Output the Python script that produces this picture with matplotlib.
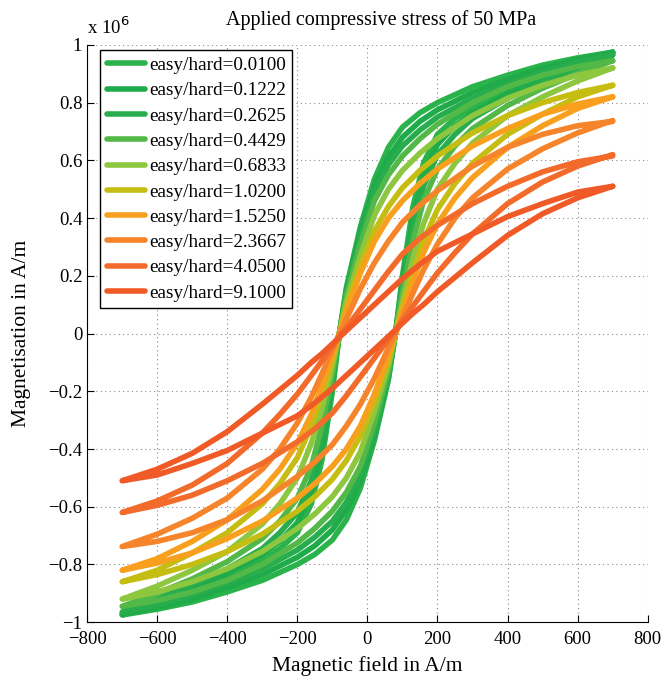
import matplotlib
matplotlib.use('Agg')
import matplotlib.pyplot as plt
from matplotlib.ticker import FuncFormatter
import numpy as np

plt.rcParams['font.family'] = ['Liberation Serif', 'DejaVu Serif']

# field values of the descending (upper) branch, A/m
H = [700, 600, 500, 400, 300, 200, 150, 100, 60, 20, -20, -60, -80,
     -100, -130, -160, -200, -250, -300, -400, -500, -600, -700]

labels = ['easy/hard=0.0100', 'easy/hard=0.1222', 'easy/hard=0.2625',
          'easy/hard=0.4429', 'easy/hard=0.6833', 'easy/hard=1.0200',
          'easy/hard=1.5250', 'easy/hard=2.3667', 'easy/hard=4.0500',
          'easy/hard=9.1000']

colors = ['#2bb34b', '#1fab4a', '#27ad4d', '#52b848', '#8dc63f',
          '#c6bd12', '#f8a01d', '#f6842a', '#f26b2a', '#f05a27']

# magnetisation of the descending branch, x 1e6 A/m
m_0100 = [.975, .955, .93, .895, .855, .80, .765, .715, .645, .535, .37, .16, 0.0,
          -.20, -.44, -.59, -.69, -.745, -.785, -.845, -.895, -.94, -.975]
m_1222 = [.972, .95, .92, .88, .835, .775, .735, .68, .61, .51, .355, .15, 0.0,
          -.18, -.40, -.55, -.655, -.72, -.765, -.83, -.885, -.93, -.972]
m_2625 = [.965, .94, .905, .865, .815, .75, .705, .65, .585, .49, .34, .145, 0.0,
          -.16, -.36, -.51, -.62, -.69, -.745, -.815, -.87, -.92, -.965]
m_4429 = [.945, .925, .895, .855, .80, .725, .675, .615, .55, .46, .31, .13, 0.0,
          -.14, -.32, -.46, -.57, -.65, -.71, -.79, -.85, -.90, -.945]
m_6833 = [.92, .895, .86, .815, .755, .675, .625, .565, .50, .41, .27, .11, 0.0,
          -.11, -.26, -.38, -.50, -.59, -.66, -.755, -.82, -.875, -.92]
m_10200 = [.86, .835, .80, .755, .695, .615, .565, .505, .44, .355, .235, .09, 0.0,
           -.09, -.21, -.32, -.43, -.52, -.59, -.69, -.76, -.82, -.86]
m_15250 = [.82, .795, .76, .71, .65, .57, .52, .46, .40, .32, .21, .075, 0.0,
           -.075, -.18, -.28, -.38, -.47, -.54, -.645, -.72, -.78, -.82]
m_23667 = [.735, .72, .69, .645, .58, .495, .445, .385, .32, .245, .155, .05, 0.0,
           -.055, -.14, -.22, -.31, -.40, -.47, -.57, -.64, -.695, -.738]
m_40500 = [.615, .595, .56, .51, .45, .375, .33, .275, .215, .15, .085, .02, -.01,
           -.045, -.095, -.145, -.21, -.28, -.345, -.45, -.525, -.58, -.62]
m_91000 = [.51, .49, .45, .405, .345, .285, .24, .19, .145, .10, .055, .01, -.013,
           -.036, -.07, -.10, -.145, -.195, -.245, -.34, -.415, -.47, -.51]

branches = [m_0100, m_1222, m_2625, m_4429, m_6833,
            m_10200, m_15250, m_23667, m_40500, m_91000]

fig = plt.figure(figsize=(6.65, 6.8), dpi=100)
ax = fig.add_axes([0.131, 0.085, 0.843, 0.849])

h = np.array(H, dtype=float)
for m, c, lab in zip(branches, colors, labels):
    m = np.array(m)
    # ascending branch is the point mirror of the descending one
    hx = np.concatenate([h, -h[1:]])
    my = np.concatenate([m, -m[1:]])
    ax.plot(hx, my, color=c, lw=4.0, label=lab, solid_capstyle='round',
            solid_joinstyle='round')


def tick_fmt(v, pos):
    s = '%g' % (round(v, 2) + 0.0)
    if s == '-0':
        s = '0'
    return s.replace('-', '\u2212')


ax.set_xlim(-800, 800)
ax.set_ylim(-1, 1)
ax.set_xticks(np.arange(-800, 801, 200))
ax.set_yticks(np.arange(-1, 1.01, 0.2))
ax.xaxis.set_major_formatter(FuncFormatter(tick_fmt))
ax.yaxis.set_major_formatter(FuncFormatter(tick_fmt))
ax.tick_params(direction='in', length=5, labelsize=13.5, width=0.8)
ax.tick_params(axis='x', pad=6)
ax.grid(True, linestyle=(0, (1, 3)), color='#888888', lw=0.8)
ax.spines['top'].set_visible(False)
ax.spines['right'].set_visible(False)

ax.set_title('Applied compressive stress of 50 MPa', fontsize=14.5, pad=14,
             x=0.525)
ax.set_xlabel('Magnetic field in A/m', fontsize=15.5, labelpad=6)
ax.set_ylabel('Magnetisation in A/m', fontsize=15.5, labelpad=12)
ax.text(0.0, 1.012, 'x 10$^6$', transform=ax.transAxes, fontsize=13.5,
        ha='left', va='bottom')

leg = ax.legend(loc='upper left', bbox_to_anchor=(0.023, 0.991), fontsize=13.8,
                fancybox=False, framealpha=1, edgecolor='black',
                handlelength=2.0, borderaxespad=0, labelspacing=0.41,
                borderpad=0.35, handletextpad=0.2)
leg.get_frame().set_linewidth(1.0)

fig.savefig('out.png', dpi=100)
